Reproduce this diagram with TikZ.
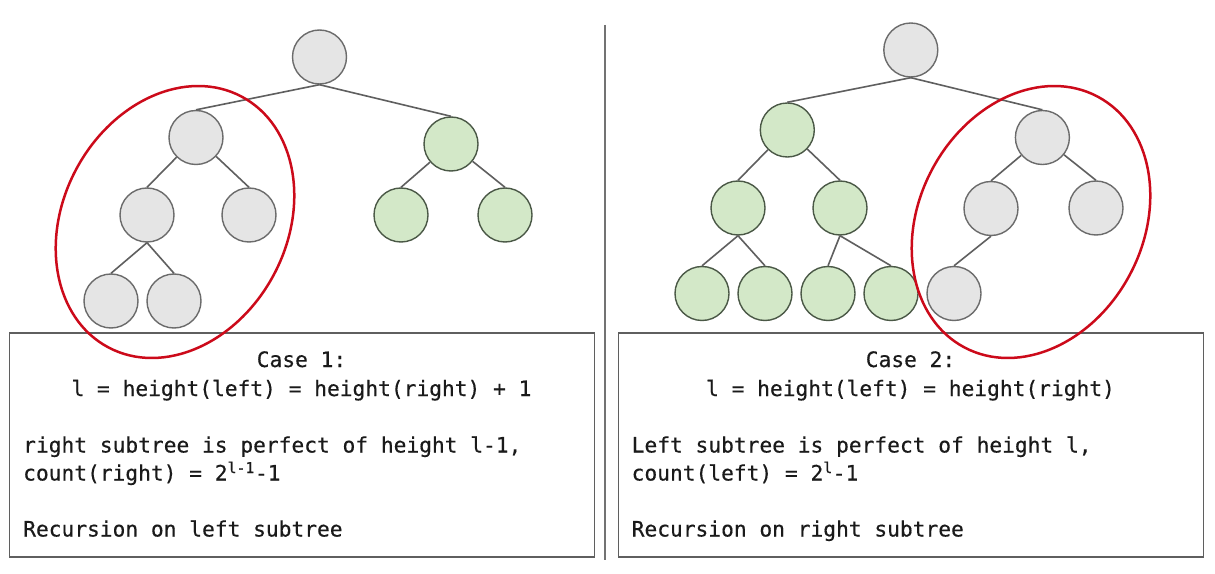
\documentclass[tikz,border=0pt]{standalone}
\usepackage{fontspec}
\newfontfamily\codefont[FakeBold=0.4]{DejaVu Sans Mono}
\definecolor{ngray}{HTML}{E5E5E5}
\definecolor{ngrayb}{HTML}{6B6B6B}
\definecolor{ngreen}{HTML}{D3E8C8}
\definecolor{ngreenb}{HTML}{4A5846}
\definecolor{redc}{HTML}{CC0A1A}
\definecolor{edgec}{HTML}{5F5F5F}
\definecolor{txtc}{HTML}{1A1A1A}
\begin{document}
\begin{tikzpicture}[x=1bp,y=-1bp,
  gnode/.style={circle,draw=ngrayb,fill=ngray,line width=1.4bp,minimum size=54bp,inner sep=0pt},
  rnode/.style={circle,draw=ngreenb,fill=ngreen,line width=1.4bp,minimum size=54bp,inner sep=0pt},
  edge/.style={draw=edgec,line width=1.6bp},
  txt/.style={font=\codefont\fontsize{21.3}{28}\selectfont,inner sep=0pt,text=txtc},
  casebox/.style={draw=edgec,line width=1.5bp},
  redring/.style={draw=redc,line width=2.5bp}]
\useasboundingbox (0,0) rectangle (1215,574);
\fill[white] (0,0) rectangle (1215,574);

% separator
\coordinate (sepT) at (605,25);
\coordinate (sepB) at (605,560);
\draw[draw=black!55,line width=1.5bp] (sepT) -- (sepB);

% boxes
\node[casebox,minimum width=585bp,minimum height=224bp,inner sep=0pt] (box1) at (302,445) {};
\node[casebox,minimum width=585bp,minimum height=224bp,inner sep=0pt] (box2) at (911,445) {};

% left tree
\node[gnode] (a0) at (319.5,57) {};
\node[gnode] (a1) at (196,137.5) {};
\node[rnode] (a2) at (451,144) {};
\node[gnode] (a3) at (147,215) {};
\node[gnode] (a4) at (249,215) {};
\node[rnode] (a5) at (401,215) {};
\node[rnode] (a6) at (505,215) {};
\node[gnode] (a7) at (111,301) {};
\node[gnode] (a8) at (174,301) {};
\draw[edge] (a0.south) -- (a1.north);
\draw[edge] (a0.south) -- (a2.north);
\draw[edge] (a1) -- (a3.north);
\draw[edge] (a1) -- (a4.north);
\draw[edge] (a3.south) -- (a7.north);
\draw[edge] (a3.south) -- (a8.north);
\draw[edge] (a2) -- (a5.north);
\draw[edge] (a2) -- (a6.north);

% right tree
\node[gnode] (b0) at (910.8,50) {};
\node[rnode] (b1) at (787.3,130) {};
\node[gnode] (b2) at (1042.4,137.5) {};
\node[rnode] (b3) at (738,208) {};
\node[rnode] (b4) at (840,208) {};
\node[gnode] (b5) at (991,208.5) {};
\node[gnode] (b6) at (1096,208) {};
\node[rnode] (b7) at (702,293.5) {};
\node[rnode] (b8) at (765,293.5) {};
\node[rnode] (b9) at (828,293.5) {};
\node[rnode] (b10) at (891,293.5) {};
\node[gnode] (b11) at (954,293.5) {};
\draw[edge] (b0.south) -- (b1.north);
\draw[edge] (b0.south) -- (b2.north);
\draw[edge] (b1) -- (b3.north);
\draw[edge] (b1) -- (b4.north);
\draw[edge] (b3.south) -- (b7.north);
\draw[edge] (b3.south) -- (b8.north);
\draw[edge] (b4.south) -- (b9.north);
\draw[edge] (b4.south) -- (b10.north);
\draw[edge] (b2) -- (b5.north);
\draw[edge] (b2) -- (b6.north);
\draw[edge] (b5.south) -- (b11.north);

% texts case 1
\node[txt,anchor=base] (t1a) at (301.5,367) {Case 1:};
\node[txt,anchor=base] (t1b) at (301.5,396) {l = height(left) = height(right) + 1};
\node[txt,anchor=base west] (t1c) at (23,452.5) {right subtree is perfect of height l-1,};
\node[txt,anchor=base west] (t1d) at (23,480.5) {count(right) = 2\textsuperscript{l-1}-1};
\node[txt,anchor=base west] (t1e) at (23,536.5) {Recursion on left subtree};

% texts case 2
\node[txt,anchor=base] (t2a) at (910.5,367) {Case 2:};
\node[txt,anchor=base] (t2b) at (910.5,396) {l = height(left) = height(right)};
\node[txt,anchor=base west] (t2c) at (631.5,452.5) {Left subtree is perfect of height l,};
\node[txt,anchor=base west] (t2d) at (631.5,480.5) {count(left) = 2\textsuperscript{l}-1};
\node[txt,anchor=base west] (t2e) at (631.5,536.5) {Recursion on right subtree};

% red ellipses
\draw[redring,rotate around={-28:(175,222)}] (175,222) ellipse [x radius=112,y radius=142];
\draw[redring,rotate around={-28:(1031,222)}] (1031,222) ellipse [x radius=112,y radius=142];
\end{tikzpicture}
\end{document}
